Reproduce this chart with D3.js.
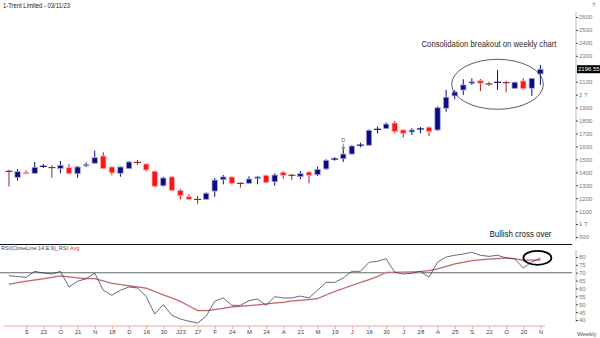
<!DOCTYPE html>
<html>
<head>
<meta charset="utf-8">
<script src="https://cdn.jsdelivr.net/npm/d3@7"></script>
<style>
  body { margin: 0; background: #fff; }
  svg { display: block; font-family: "Liberation Sans", Arial, sans-serif; }
</style>
</head>
<body>
<svg id="chart" width="600" height="338"></svg>
<script>
// Trent Ltd, weekly candles 26 Aug 2022 – 3 Nov 2023
const open = [1410,1361,1400,1392,1445,1438,1428,1436,1389,1451,
  1470,1526,1441,1392,1428,1478,1464,1408,1296,1364,
  1261,1211,1192,1191,1255,1343,1364,1316,1315,1351,
  1377,1327,1400,1378,1366,1402,1381,1426,1500,1505,
  1541,1608,1609,1730,1737,1781,1727,1711,1733,1748,
  1727,1895,1990,2036,2088,2108,2084,2094,2094,2049,
  2106,2049,2160];
const high = [1420,1425,1415,1480,1464,1456,1487,1464,1450,1477,
  1567,1555,1446,1446,1484,1495,1470,1412,1366,1371,
  1273,1230,1217,1245,1356,1379,1368,1322,1369,1372,
  1380,1392,1410,1387,1410,1408,1443,1500,1516,1578,
  1610,1629,1730,1753,1786,1796,1732,1740,1750,1755,
  1910,2036,2036,2119,2126,2121,2100,2191,2106,2099,
  2126,2128,2229];
const low = [1290,1335,1388,1390,1433,1358,1392,1385,1358,1440,
  1468,1425,1377,1366,1425,1456,1408,1284,1289,1255,
  1191,1186,1157,1186,1211,1307,1307,1281,1312,1307,
  1315,1296,1351,1340,1346,1315,1371,1418,1490,1480,
  1538,1593,1605,1701,1735,1701,1670,1688,1701,1681,
  1721,1868,1964,1997,2075,2028,2067,2036,2018,2045,
  2036,1990,2075];
const close = [1404,1405,1393,1439,1447,1435,1454,1389,1441,1462,
  1513,1428,1395,1441,1480,1475,1418,1292,1356,1261,
  1219,1191,1189,1238,1340,1364,1315,1313,1348,1364,
  1320,1379,1377,1376,1389,1377,1423,1493,1505,1541,
  1603,1612,1725,1734,1773,1714,1701,1727,1737,1714,
  1899,1980,2021,2075,2100,2088,2081,2096,2091,2096,
  2046,2126,2196.55];

// RSI(14) and its 9-period average
const rsi = [68.1,67.6,67.1,70.9,69.8,69.2,70.9,61.0,64.6,66.2,
  69.8,58.9,55.7,58.9,61.0,60.3,55.0,43.8,49.7,43.0,
  40.6,39.2,38.1,42.3,51.9,54.0,49.3,49.3,52.3,53.3,
  49.3,54.8,54.0,54.0,55.2,54.0,58.9,63.9,63.9,66.7,
  70.9,70.9,76.6,77.3,78.9,70.3,69.2,69.7,70.9,67.1,
  76.8,80.0,81.1,81.9,83.0,81.1,80.4,81.1,79.4,78.9,
  73.0,76.8,79.4];
const rsiAvg = [62.7,63.7,64.6,65.4,66.2,67.1,68.0,67.4,66.7,66.3,
  66.3,64.8,63.3,62.5,61.7,61.0,60.2,58.1,55.9,54.0,
  51.8,48.9,46.0,45.9,46.6,47.4,48.3,48.7,49.1,49.6,
  50.2,50.8,51.2,52.1,52.5,53.0,53.6,55.9,58.1,60.0,
  61.9,63.8,65.6,67.6,70.2,70.3,70.4,70.5,70.7,71.4,
  72.4,74.0,75.6,76.6,77.7,78.2,78.7,79.0,79.4,78.9,
  77.9,78.0,78.1];

const priceTicks = [900,1000,1100,1200,1300,1400,1500,1600,1700,1800,1900,2000,2100,2300,2400,2500,2600];
const rsiTicks = [40,45,50,55,60,65,70,75,80];
// labels for every second week, starting 9 Sep 2022
const weekLabels = ["S","23","O","21","N","18","D","16","30","J23","27","F","24","M","24","A",
  "21","M","19","J","16","30","J","28","A","25","S","22","O","20","N"];
const lastPrice = 2196.55;
const dividendWeek = 39;

const weeks = d3.timeFriday.range(new Date(2022, 7, 26), new Date(2023, 10, 4));
const bars = weeks.map((d, i) => ({ date: d, i, o: open[i], h: high[i], l: low[i], c: close[i] }));

const svg = d3.select("#chart");

const x = d3.scalePoint().domain(weeks).range([9, 540.4]);
const yP = d3.scaleLinear().domain([900, 2600]).range([237, 17]);
const yR = d3.scaleLinear().domain([40, 80]).range([320, 257]);

const UP = "#0b0b80", DOWN = "#ff1414";

// ---------- price panel ----------
svg.append("text").attr("x", 3).attr("y", 7.5)
  .attr("font-size", 7).attr("fill", "#222")
  .attr("textLength", 67).attr("lengthAdjust", "spacingAndGlyphs")
  .text("1-Trent Limited - 03/11/23");
svg.append("text").attr("x", 592).attr("y", 7)
  .attr("font-size", 6).attr("fill", "#666").text("?");

const candles = svg.append("g").selectAll("g").data(bars).join("g");
const isDoji = d => Math.abs(d.c - d.o) <= 6;
const wickColor = d => d.c >= d.o ? UP : (isDoji(d) ? "#8b2a2a" : "#b81818");

candles.append("line")
  .attr("x1", d => x(d.date)).attr("x2", d => x(d.date))
  .attr("y1", d => yP(d.h)).attr("y2", d => yP(d.l))
  .attr("stroke", wickColor).attr("stroke-width", 1);

candles.filter(d => !isDoji(d)).append("rect")
  .attr("x", d => x(d.date) - 2.7).attr("width", 5.4)
  .attr("y", d => yP(Math.max(d.o, d.c)))
  .attr("height", d => Math.max(1.5, Math.abs(yP(d.o) - yP(d.c))))
  .attr("fill", d => d.c >= d.o ? UP : DOWN)
  .attr("stroke", d => d.c >= d.o ? "#a9aee0" : "#ffb3b3")
  .attr("stroke-width", 0.8);

candles.filter(isDoji).append("line")
  .attr("x1", d => x(d.date) - 3.5).attr("x2", d => x(d.date) + 3.5)
  .attr("y1", d => yP((d.o + d.c) / 2)).attr("y2", d => yP((d.o + d.c) / 2))
  .attr("stroke", wickColor).attr("stroke-width", 1.2);

// dividend marker
const dx = x(weeks[dividendWeek]);
svg.append("text").attr("x", dx).attr("y", 142).attr("text-anchor", "middle")
  .attr("font-size", 5.5).attr("fill", "#555").text("D");
svg.append("line").attr("x1", dx).attr("x2", dx).attr("y1", 143.5).attr("y2", 149)
  .attr("stroke", "#555").attr("stroke-width", 0.8);
svg.append("path").attr("d", `M${dx - 1.5},147 L${dx},149.5 L${dx + 1.5},147`)
  .attr("fill", "none").attr("stroke", "#555").attr("stroke-width", 0.8);

// consolidation annotation
const cx1 = x(weeks[52]), cx2 = x(weeks[62]);
svg.append("ellipse")
  .attr("cx", (cx1 + cx2) / 2).attr("cy", yP(2080))
  .attr("rx", (cx2 - cx1) / 2 + 3).attr("ry", 25)
  .attr("fill", "none").attr("stroke", "#333").attr("stroke-width", 0.8);
svg.append("text").attr("x", 489).attr("y", 46.5).attr("text-anchor", "middle")
  .attr("font-size", 8.5).attr("fill", "#2a2a2a")
  .attr("textLength", 135).attr("lengthAdjust", "spacingAndGlyphs")
  .text("Consolidation breakout on weekly chart");

// price axis
svg.append("line").attr("x1", 576).attr("x2", 576).attr("y1", 12).attr("y2", 241)
  .attr("stroke", "#bbb").attr("stroke-width", 1);
const pAxis = svg.append("g").attr("transform", "translate(576,0)")
  .call(d3.axisRight(yP).tickValues(priceTicks)
    .tickFormat(d => d % 1000 === 0 ? (d / 1000) + " T" : d)
    .tickSize(2).tickPadding(1));
pAxis.select(".domain").remove();
pAxis.selectAll("line").attr("stroke", "#444");
pAxis.selectAll("text").attr("font-size", 6).attr("fill", "#777")
  .attr("font-family", "Liberation Sans, Arial, sans-serif");

// last price tag
const ly = yP(lastPrice);
svg.append("rect").attr("x", 577).attr("y", ly - 4).attr("width", 23).attr("height", 8).attr("fill", "#000");
svg.append("text").attr("x", 578).attr("y", ly + 2.2).attr("font-size", 6).attr("fill", "#fff")
  .text(lastPrice.toFixed(2));

svg.append("text").attr("x", 520.5).attr("y", 236.5).attr("text-anchor", "middle")
  .attr("font-size", 9).attr("fill", "#111")
  .attr("textLength", 62).attr("lengthAdjust", "spacingAndGlyphs")
  .text("Bullish cross over");

// ---------- RSI panel ----------
svg.append("line").attr("x1", 0).attr("x2", 572).attr("y1", 244.5).attr("y2", 244.5)
  .attr("stroke", "#111").attr("stroke-width", 1);

const legend = svg.append("text").attr("x", 1).attr("y", 249.8).attr("font-size", 5.5);
legend.append("tspan").attr("fill", "#3a3a6a").text("RSI(CloseLine:14:E:9)_RSI");
legend.append("tspan").attr("fill", "#e03030").attr("dx", 2).text("Avg");

svg.append("line").attr("x1", 0).attr("x2", 572).attr("y1", yR(70)).attr("y2", yR(70))
  .attr("stroke", "#555").attr("stroke-width", 0.9);

const line = d3.line().x((d, i) => x(weeks[i])).y(d => yR(d));
svg.append("path").datum(rsiAvg).attr("d", line)
  .attr("fill", "none").attr("stroke", "#f6cccc").attr("stroke-width", 1.8);
svg.append("path").datum(rsiAvg).attr("d", line)
  .attr("fill", "none").attr("stroke", "#933030").attr("stroke-width", 0.7);
svg.append("path").datum(rsi).attr("d", line)
  .attr("fill", "none").attr("stroke", "#34345e").attr("stroke-width", 0.75);

svg.append("ellipse")
  .attr("cx", x(weeks[62]) - 3).attr("cy", yR(79.5)).attr("rx", 14).attr("ry", 7)
  .attr("fill", "none").attr("stroke", "#000").attr("stroke-width", 1.8);

// RSI axis
svg.append("line").attr("x1", 576).attr("x2", 576).attr("y1", 250).attr("y2", 323)
  .attr("stroke", "#bbb").attr("stroke-width", 1);
const rAxis = svg.append("g").attr("transform", "translate(576,0)")
  .call(d3.axisRight(yR).tickValues(rsiTicks).tickSize(2).tickPadding(1));
rAxis.select(".domain").remove();
rAxis.selectAll("line").attr("stroke", "#444");
rAxis.selectAll("text").attr("font-size", 6).attr("fill", "#777")
  .attr("font-family", "Liberation Sans, Arial, sans-serif");

// time axis
const tickWeeks = weeks.filter((d, i) => i >= 2 && i % 2 === 0);
svg.append("line").attr("x1", 4).attr("x2", 545).attr("y1", 326).attr("y2", 326)
  .attr("stroke", "#eea0a0").attr("stroke-width", 1);
const xAxis = svg.append("g").attr("transform", "translate(0,326)")
  .call(d3.axisBottom(x).tickValues(tickWeeks)
    .tickFormat((d, i) => weekLabels[i]).tickSize(3).tickPadding(1));
xAxis.select(".domain").remove();
xAxis.selectAll("line").attr("stroke", "#eea0a0");
xAxis.selectAll("text").attr("font-size", 6).attr("fill", "#444")
  .attr("font-family", "Liberation Sans, Arial, sans-serif");

svg.append("text").attr("x", 577).attr("y", 335.5).attr("font-size", 6).attr("fill", "#555").text("Weekly");
</script>
</body>
</html>
